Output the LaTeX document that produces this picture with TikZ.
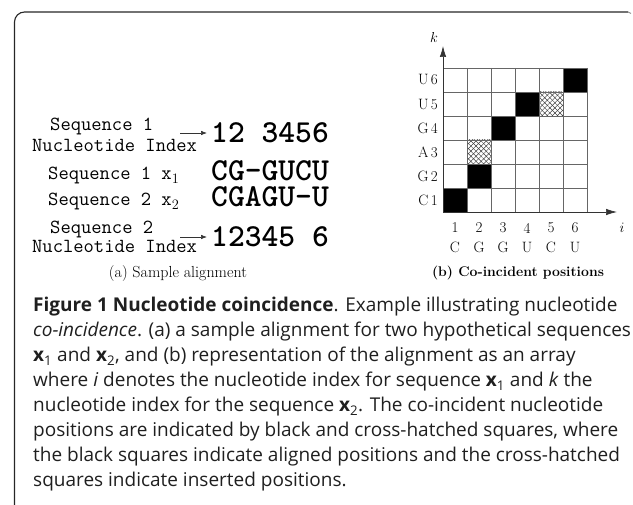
\documentclass[tikz,border=0pt]{standalone}
\usepackage{fontspec}
\newfontfamily\capfont{Open Sans}
\usetikzlibrary{arrows.meta,patterns.meta}
\tikzset{
  framel/.style={draw=black!85, line width=1.1pt},
  gridl/.style={draw=black!60, line width=0.6pt},
  axisl/.style={draw=black!80, line width=0.7pt, -{Latex[length=11pt,width=6.5pt]}},
  idxarrow/.style={draw=black!80, line width=0.6pt, -{Latex[length=6pt,width=4.5pt]}},
  monolbl/.style={anchor=base west, inner sep=0pt, font=\ttfamily\fontsize{20}{22}\selectfont},
  monobig/.style={anchor=base west, inner sep=0pt, text height=20pt, text depth=1pt, font=\ttfamily\bfseries\fontsize{32}{34}\selectfont},
  cmlbl/.style={inner sep=0pt, font=\fontsize{15}{17}\selectfont},
  subcap/.style={inner sep=0pt, font=\fontsize{16}{18}\selectfont},
  subcapb/.style={inner sep=0pt, font=\bfseries\fontsize{14}{17}\selectfont},
  captext/.style={anchor=base west, inner sep=0pt, font=\capfont\fontsize{19}{22}\selectfont, text=black!88},
}
\begin{document}
\begin{tikzpicture}[x=1pt,y=-1pt]
\useasboundingbox (0,0) rectangle (633,505);
% frame
\draw[framel, rounded corners=10pt] (14.5,510) -- (14.5,12) -- (628,12);
\draw[black!45, line width=0.9pt] (628,12) -- (631,13.5);

% ---------- (a) sample alignment ----------
\node[monolbl] (s1) at (50,131) {Sequence 1};
\node[monolbl] (ni1) at (32,152) {Nucleotide Index};
\node[monolbl] (sx1) at (48,180) {Sequence 1 x$_1$};
\node[monolbl] (sx2) at (48,206) {Sequence 2 x$_2$};
\node[monolbl] (s2) at (50,234) {Sequence 2};
\node[monolbl] (ni2) at (32,253) {Nucleotide Index};

\node[monobig] (n1) at (211,143) {12 3456};
\node[monobig] (q1) at (211,181) {CG-GUCU};
\node[monobig] (q2) at (211,207) {CGAGU-U};
\node[monobig] (n2) at (211,247) {12345 6};

\coordinate (a1s) at (180,133);
\coordinate (a1e) at (207,133);
\coordinate (a2s) at (180,237);
\coordinate (a2e) at (207,237);
\draw[idxarrow] (a1s) -- (a1e);
\draw[idxarrow] (a2s) -- (a2e);

\node[subcap] (capa) at (178,274) {(a) Sample alignment};

% ---------- (b) co-incident positions ----------
\fill[black] (443,188) rectangle (467,212);
\fill[black] (467,164) rectangle (491,188);
\fill[black] (491,116) rectangle (515,140);
\fill[black] (515,92) rectangle (539,116);
\fill[black] (563,68) rectangle (587,92);
\foreach \hx/\hy in {467/140, 539/92}{
  \fill[pattern={Lines[angle=45,distance=3.6pt,line width=0.5pt]}, pattern color=black!75] (\hx,\hy) rectangle ++(24,24);
  \fill[pattern={Lines[angle=-45,distance=3.6pt,line width=0.5pt]}, pattern color=black!75] (\hx,\hy) rectangle ++(24,24);
}
\foreach \gi in {0,...,6}{
  \draw[gridl] (443+24*\gi,68) -- (443+24*\gi,212);
  \draw[gridl] (443,68+24*\gi) -- (587,68+24*\gi);
}
\coordinate (org) at (443,212);
\coordinate (ktip) at (443,46);
\coordinate (itip) at (617,212);
\draw[axisl] (org) -- (ktip);
\draw[axisl] (org) -- (itip);
\node[cmlbl] (klbl) at (434,38) {$k$};
\node[cmlbl] (ilbl) at (622,228) {$i$};

\foreach \rlab [count=\rr] in {C\,1,G\,2,A\,3,G\,4,U\,5,U\,6}{
  \node[cmlbl, anchor=east] (row\rr) at (438,212-24*\rr+12) {\rlab};
}
\foreach \cnum/\cltr [count=\cc] in {1/C,2/G,3/G,4/U,5/C,6/U}{
  \node[cmlbl] (cn\cc) at (443+24*\cc-12,228) {\cnum};
  \node[cmlbl] (cl\cc) at (443+24*\cc-12,247) {\cltr};
}
\node[subcapb] (capb) at (518,273) {(b) Co-incident positions};

% ---------- caption ----------
\node[captext] (l1) at (33,312) {\textbf{Figure 1 Nucleotide coincidence}. Example illustrating nucleotide};
\node[captext] (l2) at (33,337) {\textit{co-incidence}. (a) a sample alignment for two hypothetical sequences};
\node[captext] (l3) at (33,362) {\textbf{x}\textsubscript{1} and \textbf{x}\textsubscript{2}, and (b) representation of the alignment as an array};
\node[captext] (l4) at (33,387) {where \textit{i} denotes the nucleotide index for sequence \textbf{x}\textsubscript{1} and \textit{k} the};
\node[captext] (l5) at (33,412) {nucleotide index for the sequence \textbf{x}\textsubscript{2}. The co-incident nucleotide};
\node[captext] (l6) at (33,437) {positions are indicated by black and cross-hatched squares, where};
\node[captext] (l7) at (33,462) {the black squares indicate aligned positions and the cross-hatched};
\node[captext] (l8) at (33,487) {squares indicate inserted positions.};
\end{tikzpicture}
\end{document}
